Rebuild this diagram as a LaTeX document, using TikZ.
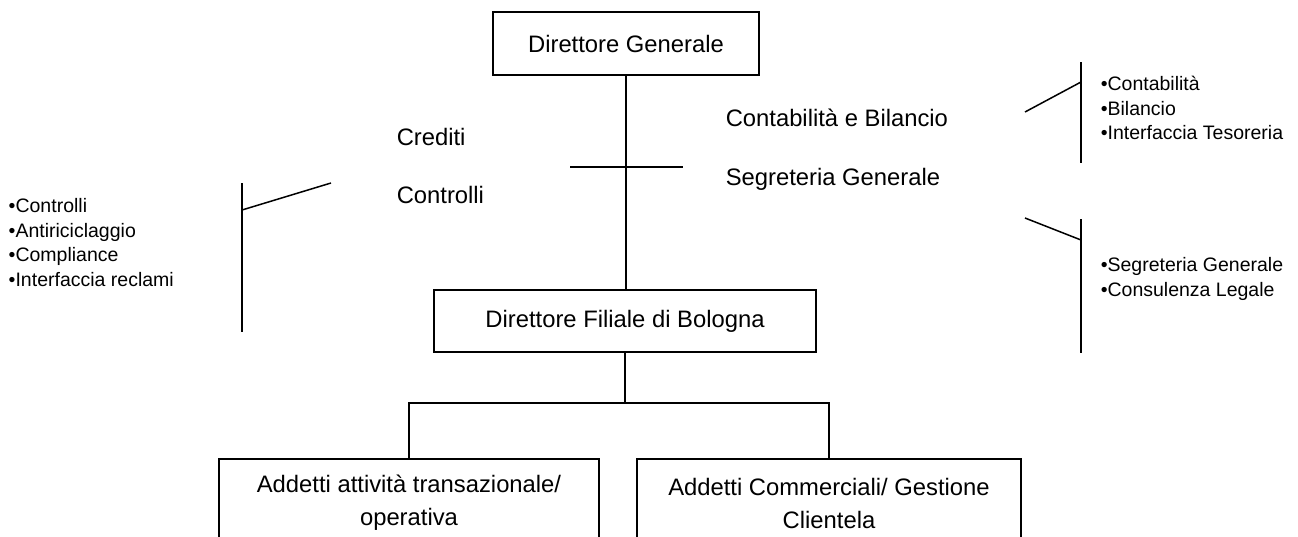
\documentclass[tikz,border=0pt]{standalone}
\usepackage{fontspec}
\setmainfont{Liberation Sans}
\usepackage{tikz}
\tikzset{
  org box/.style={
    draw,
    rectangle,
    inner sep=0pt,
    align=center,
    font=\fontsize{23.8}{33}\selectfont
  },
  org label/.style={
    anchor=west,
    inner sep=0pt,
    font=\fontsize{23.8}{28}\selectfont
  },
  org list/.style={
    anchor=west,
    inner sep=0pt,
    align=left,
    font=\fontsize{19.5}{24.5}\selectfont
  },
}

\begin{document}
\begin{tikzpicture}[x=1pt,y=-1pt,line width=1.5pt]
  \useasboundingbox (0,0) rectangle (1298,536);
  \clip (0,0) rectangle (1298,536);
  \node[org box,minimum width=266pt,minimum height=63pt] (dg) at (626,43.5) {Direttore Generale};
  \node[org box,minimum width=382pt,minimum height=62pt] (dfb) at (625,321) {Direttore Filiale di Bologna};
  \node[org box,minimum width=380pt,minimum height=88pt] (adt) at (409,503) {Addetti attività transazionale/\\operativa};
  \node[org box,minimum width=384pt,minimum height=88pt] (acg) at (829,503) {Addetti Commerciali/ Gestione\\Clientela};
  \node[org label] (cred) at (396,137) {Crediti};
  \node[org label] (contr) at (396,195) {Controlli};
  \node[org label] (cb) at (725,118) {Contabilità e Bilancio};
  \node[org label] (sg) at (725,179) {Segreteria Generale};
  \node[org list] (lctr) at (8,242.5) {•Controlli\\•Antiriciclaggio\\•Compliance\\•Interfaccia reclami};
  \node[org list] (lcb) at (1100,108) {•Contabilità\\•Bilancio\\•Interfaccia Tesoreria};
  \node[org list] (lsg) at (1100,279) {•Segreteria Generale\\•Consulenza Legale};
  \draw (dg.south) -- (dg.south |- dfb.north);
  \coordinate (crossl) at (570,167);
  \coordinate (crossr) at (683,167);
  \draw (crossl) -- (crossr);
  \draw (dfb.south) -- ++(0,50) coordinate (fork);
  \draw (adt.north) |- (fork) -| (acg.north);
  \coordinate (lbtop) at (242,183);
  \coordinate (lbbot) at (242,332);
  \coordinate (lbtip) at (331,183);
  \draw (lbtop) -- (lbbot);
  \draw (lbtop |- 0,210) -- (lbtip);
  \coordinate (rutop) at (1081,62);
  \coordinate (rubot) at (1081,163);
  \coordinate (rutip) at (1025,112);
  \draw (rutop) -- (rubot);
  \draw (rutop |- 0,82) -- (rutip);
  \coordinate (rltop) at (1081,219);
  \coordinate (rlbot) at (1081,353);
  \coordinate (rltip) at (1025,218);
  \draw (rltop) -- (rlbot);
  \draw (rltop |- 0,240) -- (rltip);
\end{tikzpicture}
\end{document}
